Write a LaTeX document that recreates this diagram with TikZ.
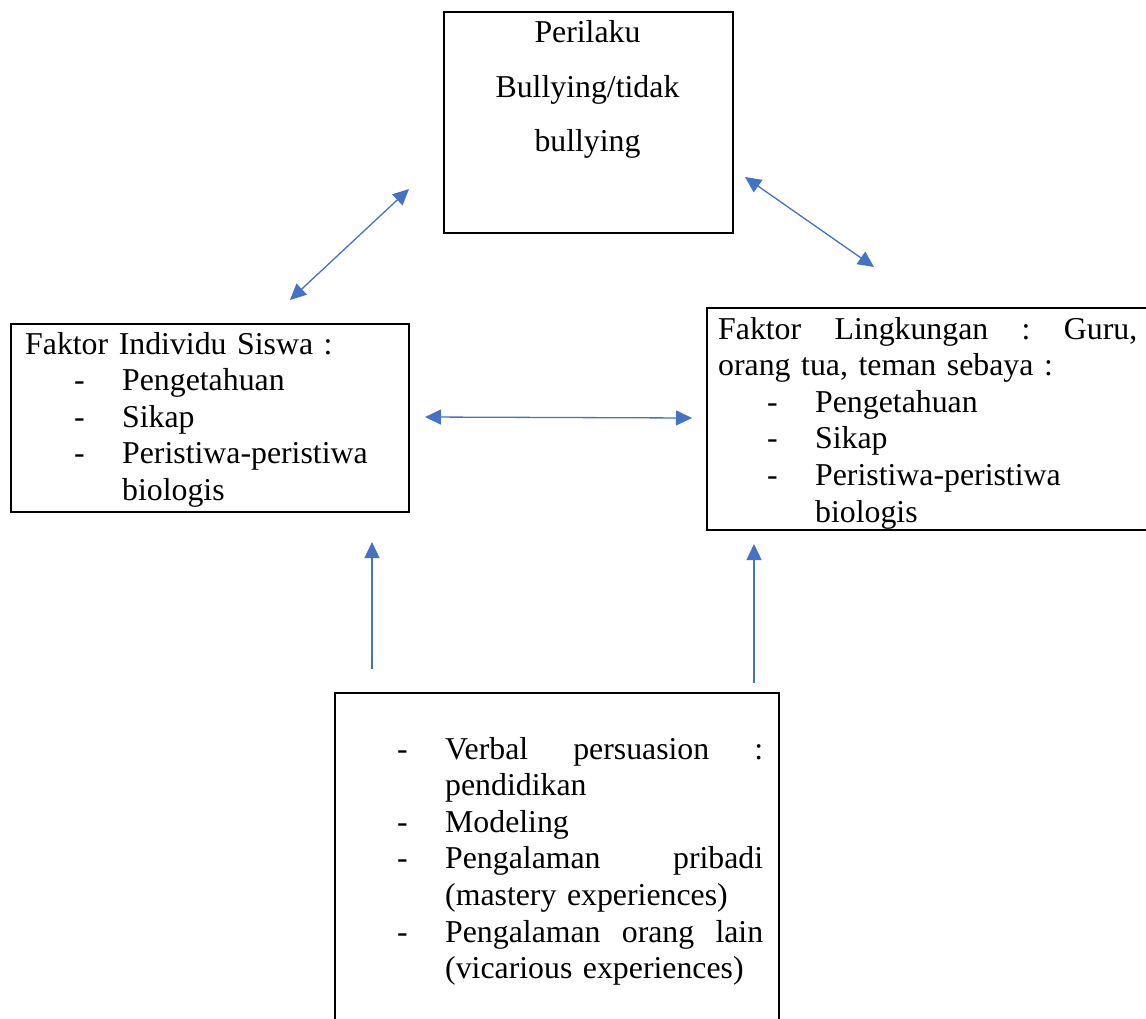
\documentclass[tikz,border=0pt]{standalone}
\usepackage{fontspec}
\setmainfont{Liberation Serif}
\usetikzlibrary{arrows.meta}
\definecolor{wordblue}{RGB}{68,114,196}
\newcommand\lstdash{\hspace*{49pt}\makebox[48pt][l]{-}}
\newcommand\lstcont{\hspace*{97pt}}

\begin{document}
\begin{tikzpicture}[x=1pt,y=-1pt]
      \tikzstyle{box}=[draw,line width=1.8pt,anchor=north west,inner sep=0pt]
      \tikzstyle{txt}=[inner sep=0pt,align=left,font=\fontsize{31.8}{36.6}\selectfont]
      \tikzstyle{link}=[wordblue,line width=1.3pt,{Triangle[length=16pt,width=15pt]}-{Triangle[length=16pt,width=15pt]}]
      \tikzstyle{uplink}=[wordblue,line width=1.3pt,-{Triangle[length=16pt,width=15pt]}]
      % Page frame
      \clip (0,0) rectangle (1146,1018);
      % Boxes
      \node (perilaku) at (443,11) [box,minimum width=289pt,minimum height=221pt] {};
      \node (individu) at (10,323) [box,minimum width=398pt,minimum height=188pt] {};
      \node (lingkungan) at (706,307) [box,minimum width=460pt,minimum height=222pt] {};
      \node (sumber) at (334,692) [box,minimum width=444pt,minimum height=340pt] {};
      % Box texts
      \node (perilakutxt) at (587.5,42.7) [txt,anchor=base,align=center,text width=280pt,
        font=\fontsize{31.8}{54.5}\selectfont] {Perilaku\\Bullying/tidak\\bullying};
      \node (individutxt) at (25,354) [txt,anchor=base west,text width=380pt]
        {Faktor Individu Siswa :\\
         \lstdash Pengetahuan\\
         \lstdash Sikap\\
         \lstdash Peristiwa-peristiwa\\
         \lstcont biologis};
      \node (lingkungantxt) at (718,339) [txt,anchor=base west,text width=428pt]
        {\makebox[419pt][s]{Faktor\hfill Lingkungan\hfill :\hfill Guru,}\\
         orang tua, teman sebaya :\\
         \lstdash Pengetahuan\\
         \lstdash Sikap\\
         \lstdash Peristiwa-peristiwa\\
         \lstcont biologis};
      \node (sumbertxt) at (348,759) [txt,anchor=base west,text width=420pt]
        {\lstdash\makebox[318pt][s]{Verbal\hfill persuasion\hfill :}\\
         \lstcont pendidikan\\
         \lstdash Modeling\\
         \lstdash\makebox[318pt][s]{Pengalaman\hfill pribadi}\\
         \lstcont (mastery experiences)\\
         \lstdash\makebox[318pt][s]{Pengalaman\hfill orang\hfill lain}\\
         \lstcont (vicarious experiences)};
      % Arrow ends
      \coordinate (indivup) at (290,300);
      \coordinate (periL) at (409,189);
      \coordinate (periR) at (745,177);
      \coordinate (lingup) at (874,267);
      \coordinate (indivR) at (425,417);
      \coordinate (lingL) at (692,418);
      \coordinate (sumberL) at (372,669);
      \coordinate (indivdown) at (372,542);
      \coordinate (sumberR) at (754,683);
      \coordinate (lingdown) at (754,544);
      % Arrows
      \draw [link] (indivup) -- (periL);
      \draw [link] (periR) -- (lingup);
      \draw [link] (indivR) -- (lingL);
      \draw [uplink] (sumberL) -- (indivdown);
      \draw [uplink] (sumberR) -- (lingdown);
    \end{tikzpicture}
\end{document}
